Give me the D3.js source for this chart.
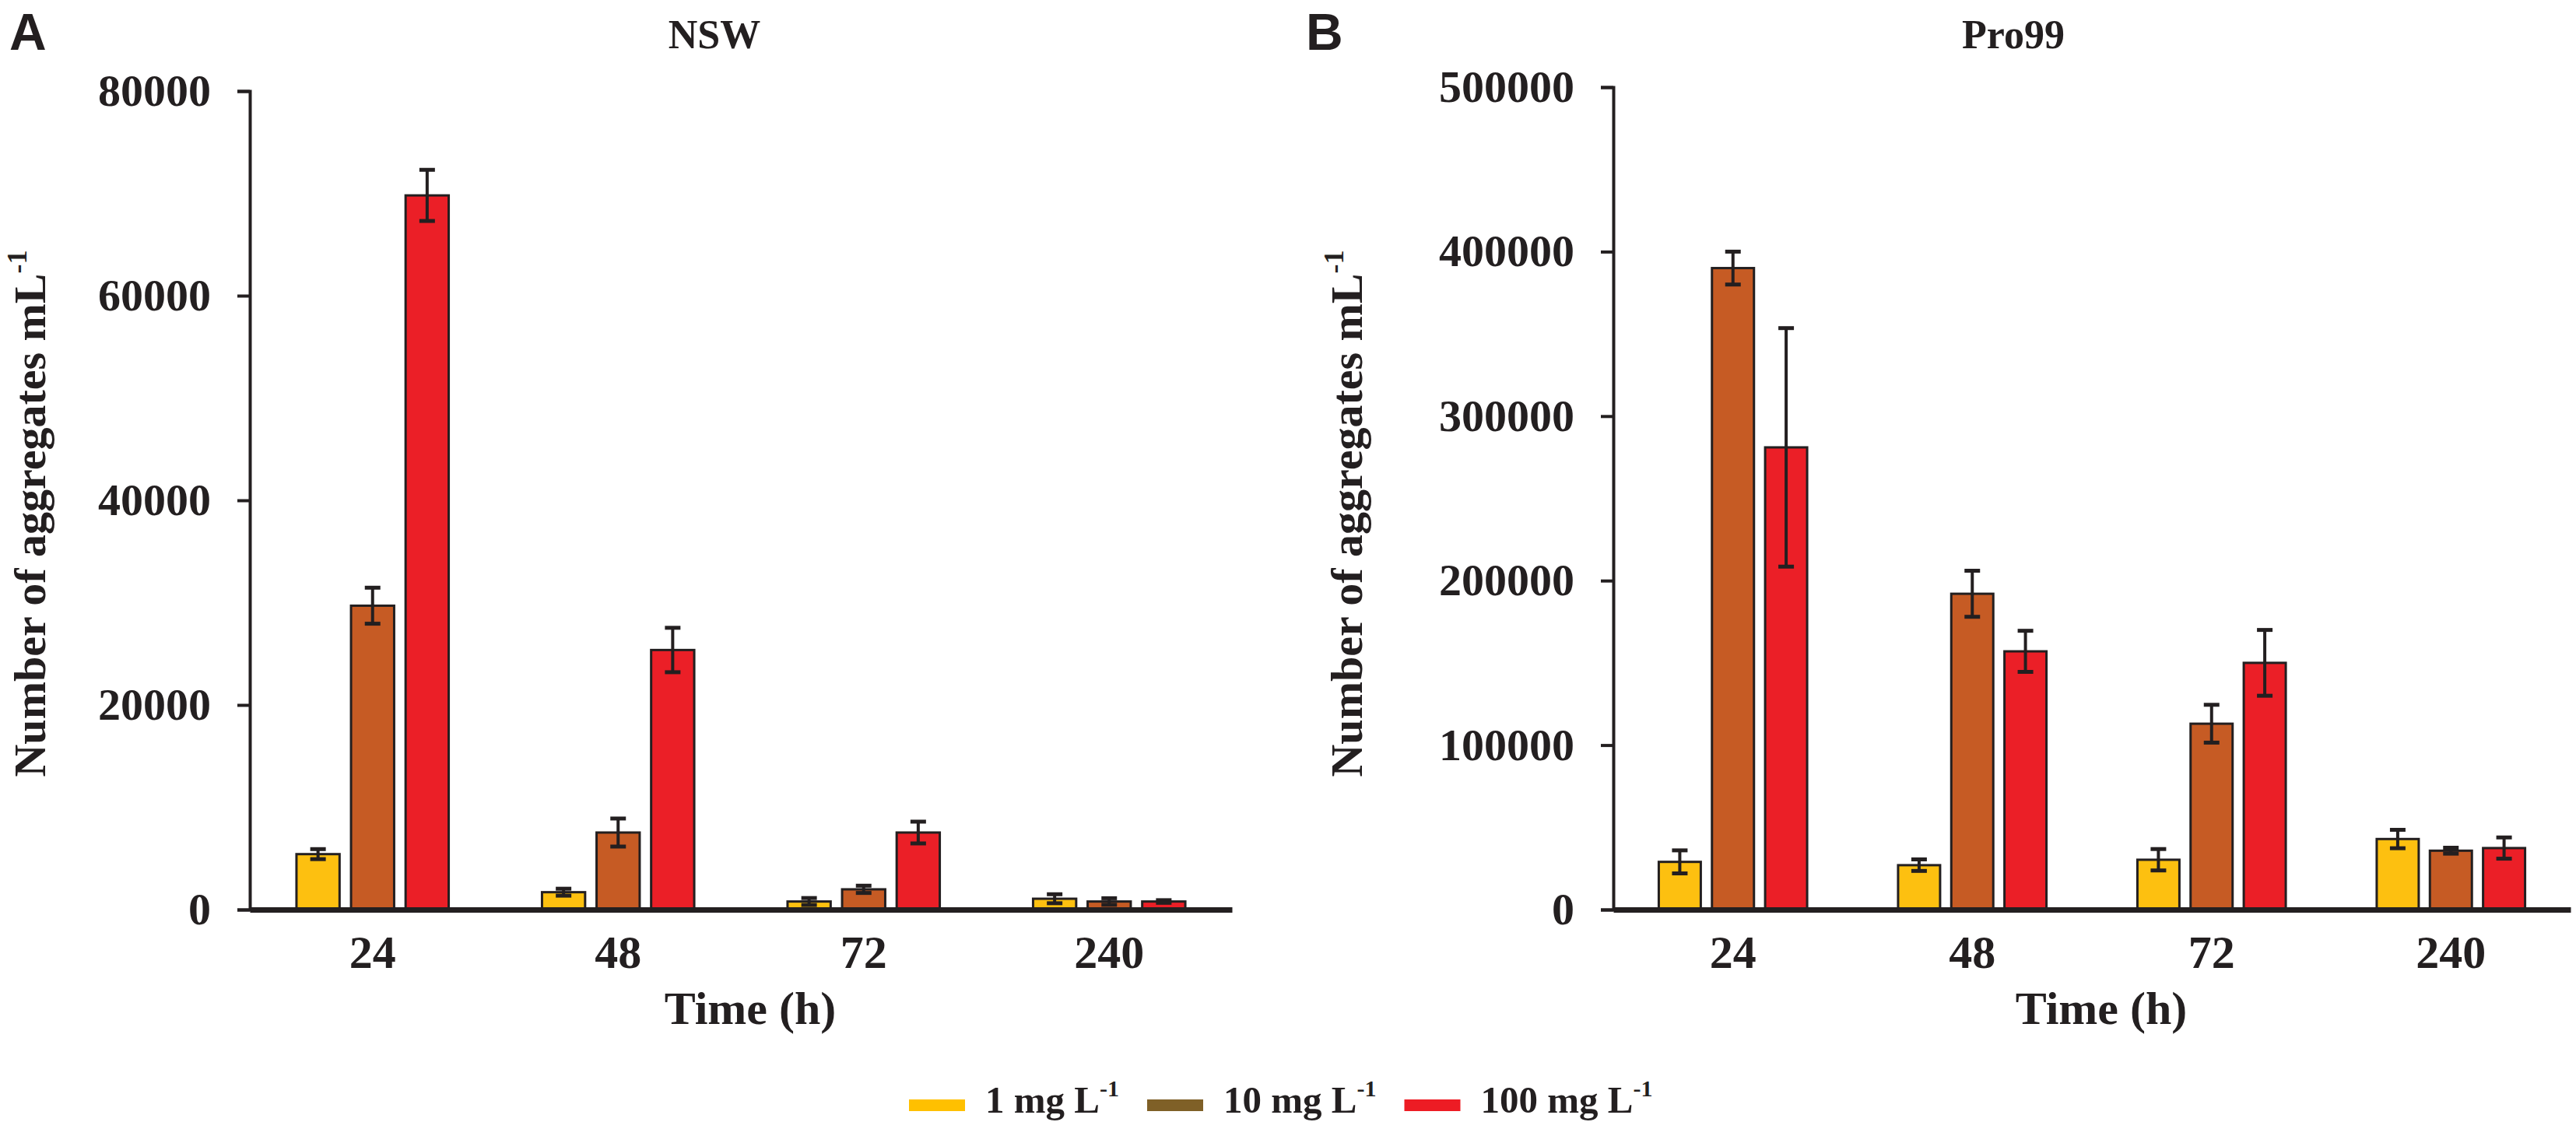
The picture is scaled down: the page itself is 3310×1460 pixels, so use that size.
<!DOCTYPE html>
<html>
<head>
<meta charset="utf-8">
<script src="https://cdn.jsdelivr.net/npm/d3@7"></script>
<style>
  body { margin: 0; background: #fff; }
  svg text { font-family: 'Liberation Serif', 'Times New Roman', serif; font-weight: bold; fill: #231f20; }
</style>
</head>
<body>
<svg id="chart" width="3310" height="1460"></svg>
<script>
// sampling times (h) and treatments
const timeLabels = ['24', '48', '72', '240'];
const seriesLabels = ['1 mg L', '10 mg L', '100 mg L'];
const barColors = ['#fdc010', '#c65b24', '#eb1f27'];
const legendColors = ['#ffc000', '#7f6027', '#ed1c24'];

// Panel A - NSW
const nswTicks = [0, 20000, 40000, 60000, 80000];
const nsw1 = [5420, 1700, 790, 1060];
const nsw1Err = [490, 340, 340, 440];
const nsw10 = [29700, 7530, 1980, 790];
const nsw10Err = [1760, 1370, 355, 320];
const nsw100 = [69800, 25370, 7530, 790];
const nsw100Err = [2500, 2170, 1065, 130];

// Panel B - Pro99
const proTicks = [0, 100000, 200000, 300000, 400000, 500000];
const pro1 = [29000, 27000, 30300, 42900];
const pro1Err = [7000, 3500, 6500, 5600];
const pro10 = [390000, 192000, 113000, 35800];
const pro10Err = [10000, 14000, 11500, 1800];
const pro100 = [281000, 157000, 150000, 37400];
const pro100Err = [72500, 12500, 20000, 6450];

const INK = '#231f20';
const BASE = 1169;

const svg = d3.select('#chart');

function drawPanel(p) {
    const g = svg.append('g');

    const x0 = d3.scaleBand()
        .domain(timeLabels)
        .range([p.left, p.right])
        .paddingInner(0.38)
        .paddingOuter(0.19);

    const x1 = d3.scaleBand()
        .domain(d3.range(seriesLabels.length))
        .range([0, x0.bandwidth()])
        .paddingInner(0.21);

    const y = d3.scaleLinear()
        .domain([0, p.ticks[p.ticks.length - 1]])
        .range([BASE, p.top]);

    // bars
    p.values.forEach((vals, s) => {
        g.append('g')
            .selectAll('rect')
            .data(vals)
            .enter()
            .append('rect')
            .attr('x', (d, i) => x0(timeLabels[i]) + x1(s))
            .attr('y', d => y(d))
            .attr('width', x1.bandwidth())
            .attr('height', d => BASE - y(d))
            .attr('fill', barColors[s])
            .attr('stroke', INK)
            .attr('stroke-width', 3);
    });

    // error bars
    p.values.forEach((vals, s) => {
        const errs = p.errors[s];
        const eg = g.append('g')
            .attr('stroke', INK)
            .attr('stroke-width', 4);
        vals.forEach((v, i) => {
            const cx = x0(timeLabels[i]) + x1(s) + x1.bandwidth() / 2;
            const yTop = y(v + errs[i]);
            const yBot = y(v - errs[i]);
            eg.append('line').attr('x1', cx).attr('x2', cx).attr('y1', yTop).attr('y2', yBot);
            eg.append('line').attr('x1', cx - 10).attr('x2', cx + 10).attr('y1', yTop).attr('y2', yTop).attr('stroke-width', 5);
            eg.append('line').attr('x1', cx - 10).attr('x2', cx + 10).attr('y1', yBot).attr('y2', yBot).attr('stroke-width', 5);
        });
    });

    // y axis
    const yAxis = g.append('g')
        .attr('transform', `translate(${p.left},0)`)
        .call(d3.axisLeft(y).tickValues(p.ticks).tickSize(16).tickPadding(34).tickFormat(d3.format('d')));
    yAxis.select('.domain').attr('stroke', INK).attr('stroke-width', 4);
    yAxis.selectAll('.tick line').attr('stroke', INK).attr('stroke-width', 4);
    yAxis.selectAll('.tick text')
        .style('font-size', '58px')
        .style('font-family', "'Liberation Serif', serif")
        .attr('fill', INK);

    // x axis
    const xAxis = g.append('g')
        .attr('transform', `translate(0,${BASE})`)
        .call(d3.axisBottom(x0).tickSize(0).tickSizeOuter(0).tickPadding(32));
    xAxis.select('.domain').attr('stroke', INK).attr('stroke-width', 7);
    xAxis.selectAll('.tick text')
        .style('font-size', '60px')
        .style('font-family', "'Liberation Serif', serif")
        .attr('fill', INK);

    // x axis title
    g.append('text')
        .attr('x', (p.left + p.right) / 2 + 12)
        .attr('y', 1316)
        .attr('text-anchor', 'middle')
        .style('font-size', '60px')
        .text('Time (h)');

    // y axis title
    const yt = g.append('text')
        .attr('transform', `translate(${p.yLabelX},660) rotate(-90)`)
        .attr('text-anchor', 'middle')
        .style('font-size', '58px');
    yt.append('tspan').text('Number of aggregates mL');
    yt.append('tspan').text('-1').style('font-size', '36px').attr('dy', -24);

    // panel title
    g.append('text')
        .attr('x', p.titleX)
        .attr('y', 62)
        .attr('text-anchor', 'middle')
        .style('font-size', '52px')
        .text(p.title);

    // panel letter
    g.append('text')
        .attr('x', p.letterX)
        .attr('y', 64)
        .style('font-family', "'Liberation Sans', Arial, sans-serif")
        .style('font-size', '66px')
        .text(p.letter);
}

drawPanel({
    left: 321, right: 1583, top: 117,
    ticks: nswTicks,
    values: [nsw1, nsw10, nsw100],
    errors: [nsw1Err, nsw10Err, nsw100Err],
    title: 'NSW', titleX: 918,
    letter: 'A', letterX: 12,
    yLabelX: 58
});

drawPanel({
    left: 2073, right: 3303, top: 112,
    ticks: proTicks,
    values: [pro1, pro10, pro100],
    errors: [pro1Err, pro10Err, pro100Err],
    title: 'Pro99', titleX: 2587,
    letter: 'B', letterX: 1678,
    yLabelX: 1750
});

// legend
const legend = svg.append('g');
let lx = 1168;
seriesLabels.forEach((label, i) => {
    legend.append('rect')
        .attr('x', lx)
        .attr('y', 1413)
        .attr('width', 72)
        .attr('height', 15)
        .attr('fill', legendColors[i]);
    lx += 72 + 26;
    const t = legend.append('text')
        .attr('x', lx)
        .attr('y', 1430)
        .style('font-size', '49px');
    t.append('tspan').text(label);
    t.append('tspan').text('-1').style('font-size', '30px').attr('dy', -21);
    lx += t.node().getComputedTextLength() + 36;
});
</script>
</body>
</html>
